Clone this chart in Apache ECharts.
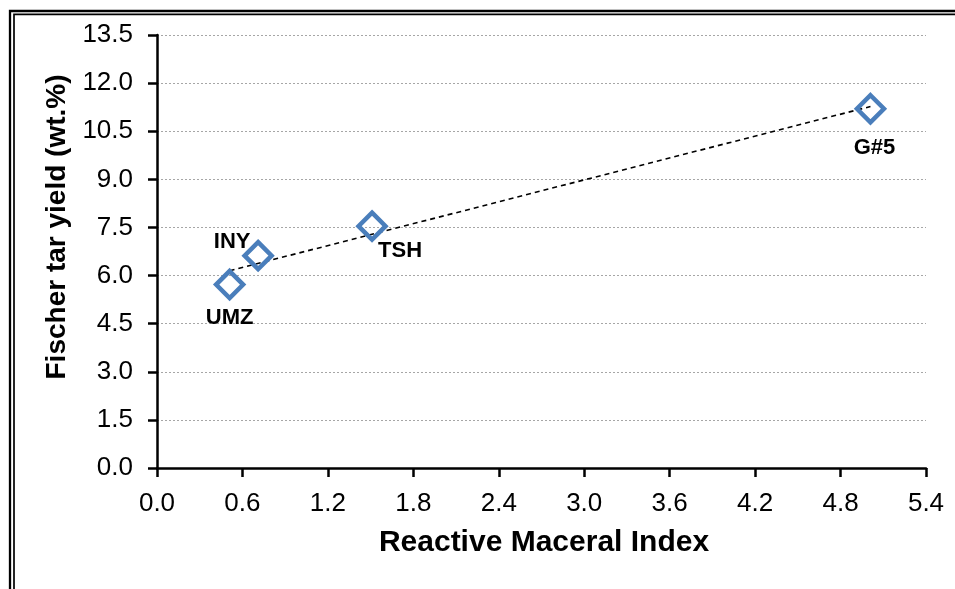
<!DOCTYPE html>
<html>
<head>
<meta charset="utf-8">
<script src="https://cdn.jsdelivr.net/npm/echarts@6/dist/echarts.min.js"></script>
<style>
html,body{margin:0;padding:0;background:#fff;}
#chart{width:955px;height:589px;}
</style>
</head>
<body>
<div id="chart"></div>
<script>
// ---- data ----
const sampleNames = ['UMZ', 'INY', 'TSH', 'G#5'];
const rmiValues = [0.51, 0.71, 1.51, 5.01];
const tarYields = [5.72, 6.62, 7.54, 11.2];
const trendX = [0.51, 5.01];
const trendY = [6.15, 11.27];
const xAxisTitle = 'Reactive Maceral Index';
const yAxisTitle = 'Fischer tar yield (wt.%)';

// label placement relative to each marker (pixels)
const labelOffsets = { 'UMZ': [0, 33], 'INY': [-26, -14], 'TSH': [28, 25], 'G#5': [4, 39] };

const FONT = '"Liberation Sans", Arial, sans-serif';
const chart = echarts.init(document.getElementById('chart'), null, { renderer: 'canvas' });

const scatterData = sampleNames.map((n, i) => ({
  name: n,
  value: [rmiValues[i], tarYields[i]],
  label: { offset: labelOffsets[n] }
}));
const trendData = trendX.map((x, i) => [x, trendY[i]]);

chart.setOption({
  backgroundColor: '#ffffff',
  animation: false,
  grid: { left: 157, right: 29, top: 35, bottom: 121, containLabel: false },
  xAxis: {
    type: 'value', min: 0, max: 5.4, interval: 0.6,
    axisLine: { show: true, onZero: false, lineStyle: { color: '#000', width: 2.5 } },
    axisTick: { show: true, inside: false, length: 9, lineStyle: { color: '#000', width: 2.5 } },
    axisLabel: { color: '#000', fontFamily: FONT, fontSize: 26, margin: 23,
      formatter: v => v.toFixed(1) },
    splitLine: { show: false }
  },
  yAxis: {
    type: 'value', min: 0, max: 13.5, interval: 1.5,
    axisLine: { show: true, onZero: false, lineStyle: { color: '#000', width: 2.5 } },
    axisTick: { show: true, inside: false, length: 9, lineStyle: { color: '#000', width: 2.5 } },
    axisLabel: { color: '#000', fontFamily: FONT, fontSize: 26, margin: 24,
      padding: [8, 0, 0, 0],
      formatter: v => v.toFixed(1) },
    splitLine: { show: true, lineStyle: { color: '#a6a6a6', width: 1, type: [2, 2] } }
  },
  series: [
    {
      type: 'line',
      data: trendData,
      showSymbol: false,
      symbol: 'none',
      lineStyle: { color: '#000', width: 1.6, type: [5, 4] },
      z: 3,
      silent: true
    },
    {
      type: 'scatter',
      data: scatterData,
      symbol: 'diamond',
      symbolSize: 27,
      itemStyle: { color: 'rgba(255,255,255,0)', borderColor: '#4a7ebb', borderWidth: 4.5, opacity: 1 },
      label: {
        show: true, position: 'inside', formatter: p => p.name,
        color: '#000', fontFamily: FONT, fontWeight: 'bold', fontSize: 22,
        textBorderWidth: 0, textShadowBlur: 0, opacity: 1,
        align: 'center', verticalAlign: 'middle'
      },
      z: 4
    }
  ],
  graphic: [
    {
      type: 'text',
      x: 544, y: 543,
      style: { text: xAxisTitle, font: 'bold 30px ' + FONT, fill: '#000',
        align: 'center', verticalAlign: 'middle' }
    },
    {
      type: 'text',
      x: 57, y: 227, rotation: Math.PI / 2,
      style: { text: yAxisTitle, font: 'bold 28px ' + FONT, fill: '#000',
        align: 'center', verticalAlign: 'middle' }
    },
    { type: 'polyline', shape: { points: [[10, 600], [10, 11], [960, 11]] },
      style: { stroke: '#000', lineWidth: 2.3, fill: null } },
    { type: 'polyline', shape: { points: [[14, 600], [14, 14.3], [960, 14.3]] },
      style: { stroke: '#000', lineWidth: 1.7, fill: null } }
  ]
});
</script>
</body>
</html>
